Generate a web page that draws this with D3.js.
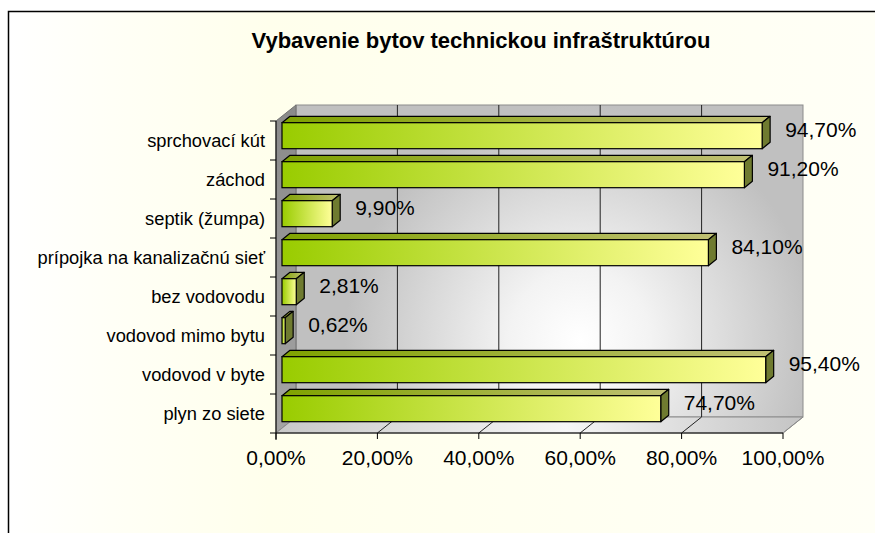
<!DOCTYPE html>
<html>
<head>
<meta charset="utf-8">
<script src="https://cdn.jsdelivr.net/npm/d3@7"></script>
<style>
  body { margin: 0; background: #ffffff; }
  text { font-family: "Liberation Sans", Arial, sans-serif; }
</style>
</head>
<body>
<script>
const width = 875;
const height = 533;

const categories = ["sprchovací kút", "záchod", "septik (žumpa)", "prípojka na kanalizačnú sieť",
                    "bez vodovodu", "vodovod mimo bytu", "vodovod v byte", "plyn zo siete"];
const values = [94.70, 91.20, 9.90, 84.10, 2.81, 0.62, 95.40, 74.70];
const xTicks = [0, 20, 40, 60, 80, 100];

// plot geometry (front plane of the 3d box)
const plotLeft = 276, plotRight = 783, plotTop = 121, plotBottom = 433;
const depth = [20, -16];      // wall depth
const barShift = [6, -4.8];   // bars sit a bit into the box
const barDepth = [8, -6.4];

const fmt = v => d3.format(".2f")(v).replace(".", ",") + "%";

const svg = d3.select("body")
    .append("svg")
    .attr("width", width)
    .attr("height", height);

const defs = svg.append("defs");

const bg = defs.append("linearGradient").attr("id", "bg")
    .attr("gradientUnits", "userSpaceOnUse")
    .attr("x1", 9).attr("x2", 875).attr("y1", 0).attr("y2", 0);
bg.append("stop").attr("offset", 0).attr("stop-color", "#ffffff");
bg.append("stop").attr("offset", 0.12).attr("stop-color", "#fffff6");
bg.append("stop").attr("offset", 0.3).attr("stop-color", "#ffffec");
bg.append("stop").attr("offset", 1).attr("stop-color", "#fffff6");

const wall = defs.append("radialGradient").attr("id", "wall")
    .attr("gradientUnits", "userSpaceOnUse")
    .attr("cx", 580).attr("cy", 340).attr("r", 235);
wall.append("stop").attr("offset", 0).attr("stop-color", "#ffffff");
wall.append("stop").attr("offset", 0.3).attr("stop-color", "#f3f3f3");
wall.append("stop").attr("offset", 1).attr("stop-color", "#c0c0c0");

const side = defs.append("linearGradient").attr("id", "side")
    .attr("x1", 0).attr("x2", 0).attr("y1", 0).attr("y2", 1);
side.append("stop").attr("offset", 0).attr("stop-color", "#8a8a8a");
side.append("stop").attr("offset", 1).attr("stop-color", "#a4a4a4");

const floor = defs.append("linearGradient").attr("id", "floor")
    .attr("gradientUnits", "userSpaceOnUse")
    .attr("x1", plotLeft).attr("x2", plotRight + depth[0]).attr("y1", 0).attr("y2", 0);
floor.append("stop").attr("offset", 0).attr("stop-color", "#c8c8c8");
floor.append("stop").attr("offset", 0.55).attr("stop-color", "#f6f6f6");
floor.append("stop").attr("offset", 1).attr("stop-color", "#c4c4c4");

const front = defs.append("linearGradient").attr("id", "barFront");
front.append("stop").attr("offset", 0).attr("stop-color", "#99cc00");
front.append("stop").attr("offset", 1).attr("stop-color", "#ffff99");

const topG = defs.append("linearGradient").attr("id", "barTop");
topG.append("stop").attr("offset", 0).attr("stop-color", "#7fa200");
topG.append("stop").attr("offset", 1).attr("stop-color", "#c0c074");

// chart area
svg.append("rect")
    .attr("x", 8.5).attr("y", 11.5)
    .attr("width", 1000).attr("height", 700)
    .attr("fill", "url(#bg)")
    .attr("stroke", "#000").attr("stroke-width", 1.5);

svg.append("text")
    .attr("x", 481).attr("y", 48)
    .attr("text-anchor", "middle")
    .attr("font-size", "22px")
    .attr("font-weight", "bold")
    .attr("fill", "#000")
    .text("Vybavenie bytov technickou infraštruktúrou");

const x = d3.scaleLinear().domain([0, 100]).range([plotLeft, plotRight]);
const y = d3.scaleBand().domain(categories).range([plotTop, plotBottom]).padding(0);

const pts = p => p.map(d => d.join(",")).join(" ");

// back wall
svg.append("rect")
    .attr("x", plotLeft + depth[0]).attr("y", plotTop + depth[1])
    .attr("width", plotRight - plotLeft).attr("height", plotBottom - plotTop)
    .attr("fill", "url(#wall)")
    .attr("stroke", "#8c8c8c").attr("stroke-width", 1);

// left wall
svg.append("polygon")
    .attr("points", pts([[plotLeft, plotTop], [plotLeft + depth[0], plotTop + depth[1]],
        [plotLeft + depth[0], plotBottom + depth[1]], [plotLeft, plotBottom]]))
    .attr("fill", "url(#side)")
    .attr("stroke", "#707070").attr("stroke-width", 1);

// floor
svg.append("polygon")
    .attr("points", pts([[plotLeft, plotBottom], [plotLeft + depth[0], plotBottom + depth[1]],
        [plotRight + depth[0], plotBottom + depth[1]], [plotRight, plotBottom]]))
    .attr("fill", "url(#floor)")
    .attr("stroke", "#8c8c8c").attr("stroke-width", 1);

// gridlines on back wall and floor
svg.append("g").selectAll("line")
    .data(xTicks.slice(1, -1))
    .join("line")
    .attr("x1", d => x(d) + depth[0]).attr("x2", d => x(d) + depth[0])
    .attr("y1", plotTop + depth[1]).attr("y2", plotBottom + depth[1])
    .attr("stroke", "#222").attr("stroke-width", 1);

svg.append("g").selectAll("line")
    .data(xTicks.slice(1))
    .join("line")
    .attr("x1", d => x(d)).attr("y1", plotBottom)
    .attr("x2", d => x(d) + depth[0]).attr("y2", plotBottom + depth[1])
    .attr("stroke", d => d === 100 ? "#8c8c8c" : "#222").attr("stroke-width", 1);

// axes
svg.append("line")
    .attr("x1", plotLeft).attr("x2", plotLeft).attr("y1", plotTop).attr("y2", plotBottom + 7)
    .attr("stroke", "#000");
svg.append("line")
    .attr("x1", plotLeft - 6).attr("x2", plotRight).attr("y1", plotBottom).attr("y2", plotBottom)
    .attr("stroke", "#000");

svg.append("g").selectAll("line")
    .data(categories)
    .join("line")
    .attr("x1", plotLeft - 6).attr("x2", plotLeft)
    .attr("y1", d => y(d)).attr("y2", d => y(d))
    .attr("stroke", "#000");

svg.append("g").selectAll("line")
    .data(xTicks)
    .join("line")
    .attr("x1", d => x(d)).attr("x2", d => x(d))
    .attr("y1", plotBottom).attr("y2", plotBottom + 6)
    .attr("stroke", "#000");

svg.append("g").selectAll("text")
    .data(xTicks)
    .join("text")
    .attr("x", d => x(d)).attr("y", 465)
    .attr("text-anchor", "middle")
    .attr("font-size", "21px")
    .attr("fill", "#000")
    .text(fmt);

svg.append("g").selectAll("text")
    .data(categories)
    .join("text")
    .attr("x", 265)
    .attr("y", d => y(d) + y.bandwidth() / 2)
    .attr("dy", "0.35em")
    .attr("text-anchor", "end")
    .attr("font-size", "18.3px")
    .attr("fill", "#000")
    .text(d => d);

// bars
const barH = y.bandwidth() * 2 / 3;
const bars = svg.append("g").selectAll("g")
    .data(categories.map((c, i) => ({c, v: values[i]})))
    .join("g");

const geo = d => {
    const x0 = x(0) + barShift[0], x1 = x(d.v) + barShift[0];
    const y0 = y(d.c) + (y.bandwidth() - barH) / 2 + barShift[1];
    return {x0, x1, y0, y1: y0 + barH};
};

bars.append("polygon")
    .attr("points", d => {
        const g = geo(d);
        return pts([[g.x0, g.y0], [g.x1, g.y0], [g.x1 + barDepth[0], g.y0 + barDepth[1]],
            [g.x0 + barDepth[0], g.y0 + barDepth[1]]]);
    })
    .attr("fill", "url(#barTop)")
    .attr("stroke", "#000").attr("stroke-width", 1.2).attr("stroke-linejoin", "round");

bars.append("polygon")
    .attr("points", d => {
        const g = geo(d);
        return pts([[g.x1, g.y0], [g.x1 + barDepth[0], g.y0 + barDepth[1]],
            [g.x1 + barDepth[0], g.y1 + barDepth[1]], [g.x1, g.y1]]);
    })
    .attr("fill", "#6f7b30")
    .attr("stroke", "#000").attr("stroke-width", 1.2).attr("stroke-linejoin", "round");

bars.append("rect")
    .attr("x", d => geo(d).x0).attr("y", d => geo(d).y0)
    .attr("width", d => geo(d).x1 - geo(d).x0).attr("height", barH)
    .attr("fill", "url(#barFront)")
    .attr("stroke", "#000").attr("stroke-width", 1.2);

bars.append("text")
    .attr("x", d => geo(d).x1 + 23)
    .attr("y", d => y(d.c) + y.bandwidth() / 2 - 11)
    .attr("dy", "0.35em")
    .attr("font-size", "21px")
    .attr("fill", "#000")
    .text(d => fmt(d.v));
</script>
</body>
</html>
